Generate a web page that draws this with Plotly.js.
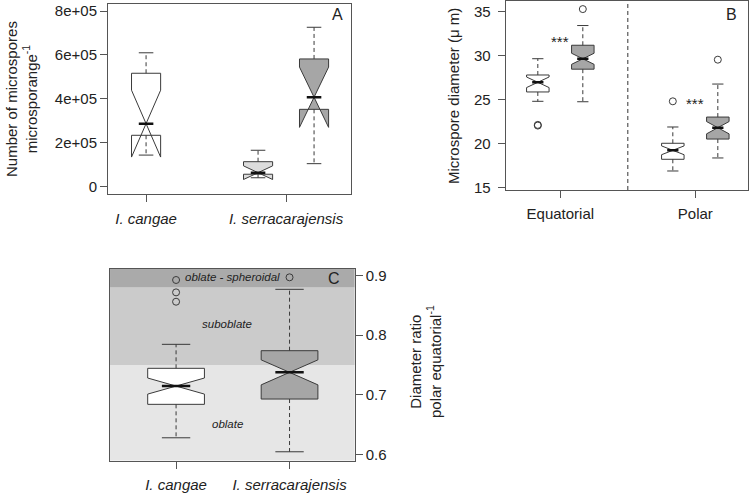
<!DOCTYPE html>
<html>
<head>
<meta charset="utf-8">
<script src="https://cdn.plot.ly/plotly-3.0.1.min.js"></script>
<style>
  body { margin: 0; background: #fff; }
  #chart { width: 750px; height: 494px; }
</style>
</head>
<body>
<div id="chart"></div>
<script>
// ---- panel A : microspores per microsporangium ----
const aLabels = ['I. cangae', 'I. serracarajensis'];
const aLower = [145000, 42000, 106000];
const aQ1 = [235000, 58000, 353000];
const aMed = [288000, 65000, 408000];
const aQ3 = [517000, 115000, 582000];
const aUpper = [610000, 167000, 726000];
const aNotch = [152000, 31000, 137000];
const aTickVals = [0, 200000, 400000, 600000, 800000];
const aTickText = ['0', '2e+05', '4e+05', '6e+05', '8e+05'];

// ---- panel B : microspore diameter ----
const bGroups = ['Equatorial', 'Polar'];
const bLower = [24.82, 24.77, 16.9, 18.38];
const bQ1 = [25.88, 28.47, 18.23, 20.53];
const bMed = [26.98, 29.65, 19.25, 21.82];
const bQ3 = [27.81, 31.19, 20.05, 23.03];
const bUpper = [29.66, 33.43, 21.9, 26.78];
const bNotch = [0.6, 0.63, 0.5, 0.7];
const bOutliers = [[22.06, 22.14], [35.3], [24.82], [29.55]];

// ---- panel C : polar / equatorial ratio ----
const cLabels = ['I. cangae', 'I. serracarajensis'];
const cLower = [0.6277, 0.6042];
const cQ1 = [0.6839, 0.6928];
const cMed = [0.7146, 0.7376];
const cQ3 = [0.7444, 0.774];
const cUpper = [0.7847, 0.8771];
const cNotch = [0.0135, 0.021];
const cOutliers = [[0.8928, 0.872, 0.8563], [0.8973]];
const shapeClasses = ['oblate', 'suboblate', 'oblate - spheroidal'];
const classLimits = [0.75, 0.88];

// positions / styles
const aPos = [1, 2, 2.5], aWidth = 0.26;
const bPos = [1, 2, 4, 5], bWidth = 0.5;
const cPos = [1, 2], cWidth = 0.5;
const WHITE = '#ffffff', LIGHT = '#dcdcdc', DARK = '#a6a6a6';
const boxLine = '#3a3a3a';
const frame = '#555555';
const fontFam = 'Liberation Sans, Arial, sans-serif';
const txt = '#222222';

const traces = [];

function addBoxes(xa, ya, pos, width, lower, q1, med, q3, upper, notch, fills, outliers) {
  const wx = [], wy = [], cx = [], cy = [], mx = [], my = [], ox = [], oy = [];
  for (let i = 0; i < pos.length; i++) {
    traces.push({
      type: 'box', xaxis: xa, yaxis: ya,
      x: [pos[i]], q1: [q1[i]], median: [med[i]], q3: [q3[i]],
      lowerfence: [lower[i]], upperfence: [upper[i]], notchspan: [notch[i]],
      notched: true, notchwidth: 0.5, width: width,
      boxpoints: false, showwhiskers: false,
      fillcolor: fills[i], line: {color: boxLine, width: 1},
      hoverinfo: 'skip', showlegend: false
    });
    const p = pos[i], h = width / 4;
    wx.push(p, p, null, p, p, null);
    wy.push(q3[i], upper[i], null, q1[i], lower[i], null);
    cx.push(p - h, p + h, null, p - h, p + h, null);
    cy.push(upper[i], upper[i], null, lower[i], lower[i], null);
    mx.push(p - h, p + h, null);
    my.push(med[i], med[i], null);
    if (outliers) {
      outliers[i].forEach(function(v) { ox.push(p); oy.push(v); });
    }
  }
  // dashed whiskers
  traces.push({type: 'scatter', mode: 'lines', xaxis: xa, yaxis: ya, x: wx, y: wy,
    line: {color: boxLine, width: 1, dash: '4px,3px'}, hoverinfo: 'skip', showlegend: false});
  // staples
  traces.push({type: 'scatter', mode: 'lines', xaxis: xa, yaxis: ya, x: cx, y: cy,
    line: {color: boxLine, width: 1}, hoverinfo: 'skip', showlegend: false});
  // thick median
  traces.push({type: 'scatter', mode: 'lines', xaxis: xa, yaxis: ya, x: mx, y: my,
    line: {color: '#111', width: 2.5}, hoverinfo: 'skip', showlegend: false});
  if (ox.length) {
    traces.push({type: 'scatter', mode: 'markers', xaxis: xa, yaxis: ya, x: ox, y: oy,
      marker: {symbol: 'circle-open', size: 7, color: boxLine, line: {width: 1}},
      hoverinfo: 'skip', showlegend: false});
  }
}

addBoxes('x', 'y', aPos, aWidth, aLower, aQ1, aMed, aQ3, aUpper, aNotch, [WHITE, LIGHT, DARK], null);
addBoxes('x2', 'y2', bPos, bWidth, bLower, bQ1, bMed, bQ3, bUpper, bNotch, [WHITE, DARK, WHITE, DARK], bOutliers);
addBoxes('x3', 'y3', cPos, cWidth, cLower, cQ1, cMed, cQ3, cUpper, cNotch, [WHITE, DARK], cOutliers);

const tickFont = {family: fontFam, size: 15, color: txt};
function axis(extra) {
  return Object.assign({
    showline: true, mirror: true, linecolor: frame, linewidth: 1,
    ticks: 'outside', ticklen: 7, tickcolor: frame, tickwidth: 1,
    showgrid: false, zeroline: false, tickfont: tickFont, fixedrange: true
  }, extra);
}

const cRange = [0.5892, 0.9113];

function note(xref, yref, x, y, text, size, angle) {
  return {xref: xref, yref: yref, x: x, y: y, text: text, showarrow: false,
    xanchor: 'center', yanchor: 'middle', textangle: angle || 0,
    font: {family: fontFam, size: size, color: txt}};
}

const layout = {
  width: 750, height: 494,
  margin: {l: 0, r: 0, t: 0, b: 0},
  paper_bgcolor: '#fff', plot_bgcolor: 'rgba(0,0,0,0)',
  showlegend: false,
  xaxis: axis({domain: [0.144, 0.468], range: [0.66, 2.83], anchor: 'y',
    tickvals: [1, 2.25], ticktext: aLabels.map(s => '<i>' + s + '</i>'), ticklabelstandoff: 4}),
  yaxis: axis({domain: [0.6067, 0.9919], range: [-33200, 831800], anchor: 'x',
    tickvals: aTickVals, ticktext: aTickText}),
  xaxis2: axis({domain: [0.6743, 0.9973], range: [0.287, 5.67], anchor: 'y2',
    tickvals: [1.5, 4.5], ticktext: bGroups, ticklabelstandoff: 3}),
  yaxis2: axis({domain: [0.6154, 0.998], range: [14.74, 36.22], anchor: 'x2',
    tickvals: [15, 20, 25, 30, 35], ticklabelstandoff: 4}),
  xaxis3: axis({domain: [0.1467, 0.4729], range: [0.418, 2.574], anchor: 'y3',
    tickvals: cPos, ticktext: cLabels.map(s => '<i>' + s + '</i>'), ticklabelstandoff: 3}),
  yaxis3: axis({domain: [0.0674, 0.4555], range: cRange, anchor: 'x3', side: 'right',
    tickvals: [0.6, 0.7, 0.8, 0.9], ticktext: ['0.6', '0.7', '0.8', '0.9']}),
  shapes: [
    {type: 'rect', layer: 'below', xref: 'x3 domain', yref: 'y3', x0: 0, x1: 1,
      y0: cRange[0], y1: classLimits[0], fillcolor: '#e6e6e6', line: {width: 0}},
    {type: 'rect', layer: 'below', xref: 'x3 domain', yref: 'y3', x0: 0, x1: 1,
      y0: classLimits[0], y1: classLimits[1], fillcolor: '#cbcbcb', line: {width: 0}},
    {type: 'rect', layer: 'below', xref: 'x3 domain', yref: 'y3', x0: 0, x1: 1,
      y0: classLimits[1], y1: cRange[1], fillcolor: '#aaaaaa', line: {width: 0}},
    {type: 'line', xref: 'x2', yref: 'y2 domain', x0: 3, x1: 3, y0: 0, y1: 1,
      line: {color: '#333', width: 1, dash: '4px,3px'}}
  ],
  annotations: [
    note('paper', 'paper', 21 / 750, 1 - 99 / 494, 'Number of microspores<br>microsporange<sup>-1</sup>', 15, -90),
    note('paper', 'paper', 453 / 750, 1 - 96 / 494, 'Microspore diameter (\u03bc m)', 15, -90),
    note('paper', 'paper', 425 / 750, 1 - 362 / 494, 'Diameter ratio<br>polar equatorial<sup>-1</sup>', 15, -90),
    note('paper', 'paper', 337 / 750, 1 - 14 / 494, 'A', 16),
    note('paper', 'paper', 731 / 750, 1 - 14 / 494, 'B', 16),
    note('paper', 'paper', 334 / 750, 1 - 278 / 494, 'C', 16),
    note('x2', 'y2', 1.5, 31.6, '***', 15),
    note('x2', 'y2', 4.5, 24.6, '***', 15),
    note('x3', 'y3', 1.454, 0.6507, '<i>' + shapeClasses[0] + '</i>', 11.5),
    note('x3', 'y3', 1.451, 0.8188, '<i>' + shapeClasses[1] + '</i>', 11.5),
    note('x3', 'y3', 1.493, 0.897, '<i>' + shapeClasses[2] + '</i>', 11.5)
  ]
};

Plotly.newPlot('chart', traces, layout, {staticPlot: true});
</script>
</body>
</html>
